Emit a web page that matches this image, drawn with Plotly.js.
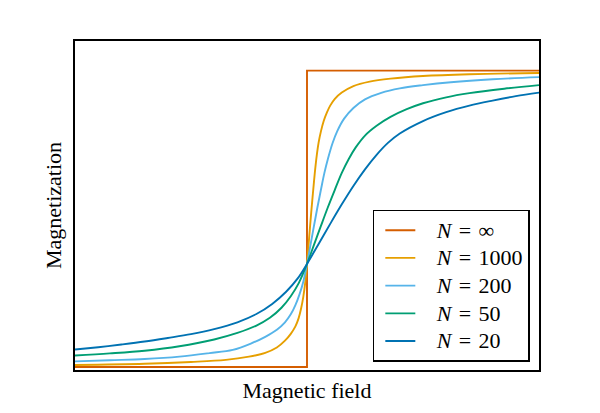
<!DOCTYPE html>
<html>
<head>
<meta charset="utf-8">
<script src="https://cdn.plot.ly/plotly-3.0.1.min.js"></script>
<style>
  html, body { margin: 0; padding: 0; background: #ffffff; }
  #chart { width: 600px; height: 413px; }
</style>
</head>
<body>
<div id="chart"></div>
<script>
// Magnetization versus applied field for chains of N spins.
const seriesNames = ['<i>N</i>\u2004=\u2004∞', '<i>N</i>\u2004=\u20041000', '<i>N</i>\u2004=\u2004200',
  '<i>N</i>\u2004=\u200450', '<i>N</i>\u2004=\u200420'];
const seriesColors = ['#D55E00', '#E69F00', '#56B4E9', '#009E73', '#0072B2'];

// N = infinity: sharp jump at zero field
const fieldInf = [-1, 0, 0, 1];
const magInf = [0, 0, 1, 1];

const field1000 = [-1, -0.7, -0.5, -0.35, -0.25, -0.18, -0.13, -0.095, -0.07, -0.05, -0.036, -0.025, -0.016, -0.008,
  0, 0.006, 0.012, 0.018, 0.024, 0.03, 0.036, 0.043, 0.05, 0.06, 0.072, 0.086, 0.1, 0.12, 0.15, 0.2, 0.27, 0.36, 0.5, 0.7, 1];
const mag1000 = [0.007, 0.011, 0.017, 0.024, 0.035, 0.048, 0.066, 0.089, 0.112, 0.137, 0.165, 0.199, 0.237, 0.282,
  0.348, 0.405, 0.463, 0.520, 0.573, 0.625, 0.673, 0.720, 0.757, 0.795, 0.830, 0.859, 0.882, 0.905, 0.926, 0.948, 0.963, 0.973, 0.982, 0.988, 0.992];

const field200 = [-1, -0.85, -0.7, -0.55, -0.42, -0.32, -0.24, -0.18, -0.13, -0.095, -0.07, -0.05, -0.032, -0.016,
  0, 0.015, 0.03, 0.045, 0.06, 0.075, 0.09, 0.11, 0.13, 0.16, 0.2, 0.25, 0.32, 0.4, 0.5, 0.62, 0.8, 1];
const mag200 = [0.019, 0.023, 0.027, 0.035, 0.047, 0.058, 0.080, 0.102, 0.126, 0.151, 0.178, 0.209, 0.246, 0.288,
  0.348, 0.412, 0.476, 0.539, 0.598, 0.655, 0.702, 0.755, 0.795, 0.838, 0.874, 0.903, 0.925, 0.940, 0.951, 0.961, 0.971, 0.978];

const field50 = [-1, -0.85, -0.7, -0.55, -0.4, -0.3, -0.22, -0.16, -0.11, -0.07, -0.035,
  0, 0.03, 0.06, 0.09, 0.12, 0.15, 0.18, 0.21, 0.25, 0.3, 0.36, 0.43, 0.5, 0.6, 0.7, 0.85, 1];
const mag50 = [0.039, 0.046, 0.055, 0.070, 0.093, 0.115, 0.139, 0.166, 0.200, 0.239, 0.284,
  0.348, 0.412, 0.476, 0.539, 0.598, 0.655, 0.702, 0.741, 0.781, 0.814, 0.844, 0.870, 0.890, 0.910, 0.924, 0.939, 0.951];

const field20 = [-1, -0.9, -0.8, -0.7, -0.6, -0.5, -0.4, -0.3, -0.22, -0.15, -0.09, -0.04,
  0, 0.05, 0.1, 0.15, 0.2, 0.25, 0.3, 0.35, 0.4, 0.5, 0.6, 0.7, 0.8, 0.9, 1];
const mag20 = [0.059, 0.067, 0.076, 0.086, 0.098, 0.111, 0.128, 0.151, 0.178, 0.213, 0.254, 0.299,
  0.348, 0.415, 0.483, 0.549, 0.611, 0.667, 0.716, 0.757, 0.788, 0.830, 0.860, 0.882, 0.899, 0.914, 0.926];

const fields = [fieldInf, field1000, field200, field50, field20];
const mags = [magInf, mag1000, mag200, mag50, mag20];

const serif = 'Liberation Serif, DejaVu Serif, serif';
const pad = '\u00a0\u00a0\u00a0';

const traces = fields.map((f, i) => ({
  type: 'scatter',
  mode: 'lines',
  x: f,
  y: mags[i],
  name: '<span style="font-size:22px">' + pad + seriesNames[i] + '</span>',
  line: { color: seriesColors[i], width: 1.9, shape: i === 0 ? 'linear' : 'spline', smoothing: 1 },
  hoverinfo: 'skip'
}));

const axisBase = {
  showgrid: false,
  zeroline: false,
  showticklabels: false,
  ticks: '',
  showline: true,
  mirror: true,
  linecolor: '#000000',
  linewidth: 1.6,
  automargin: false
};

const layout = {
  width: 600,
  height: 413,
  margin: { l: 75, r: 61, t: 41, b: 43 },
  paper_bgcolor: '#ffffff',
  plot_bgcolor: '#ffffff',
  font: { family: serif, size: 22, color: '#000000' },
  showlegend: true,
  legend: {
    x: 0.98, y: 0.025, xanchor: 'right', yanchor: 'bottom',
    bgcolor: '#ffffff', bordercolor: '#000000', borderwidth: 1.6,
    font: { family: serif, size: 19, color: '#000000' },
    itemwidth: 30, indentation: 6, tracegroupgap: 0
  },
  xaxis: Object.assign({}, axisBase, {
    range: [-1, 1],
    title: { text: 'Magnetic field', font: { family: serif, size: 22 }, standoff: 12 }
  }),
  yaxis: Object.assign({}, axisBase, {
    range: [-0.01, 1.10],
    title: { text: 'Magnetization', font: { family: serif, size: 22 }, standoff: 6 }
  })
};

Plotly.newPlot('chart', traces, layout, { staticPlot: true, displayModeBar: false });
</script>
</body>
</html>
